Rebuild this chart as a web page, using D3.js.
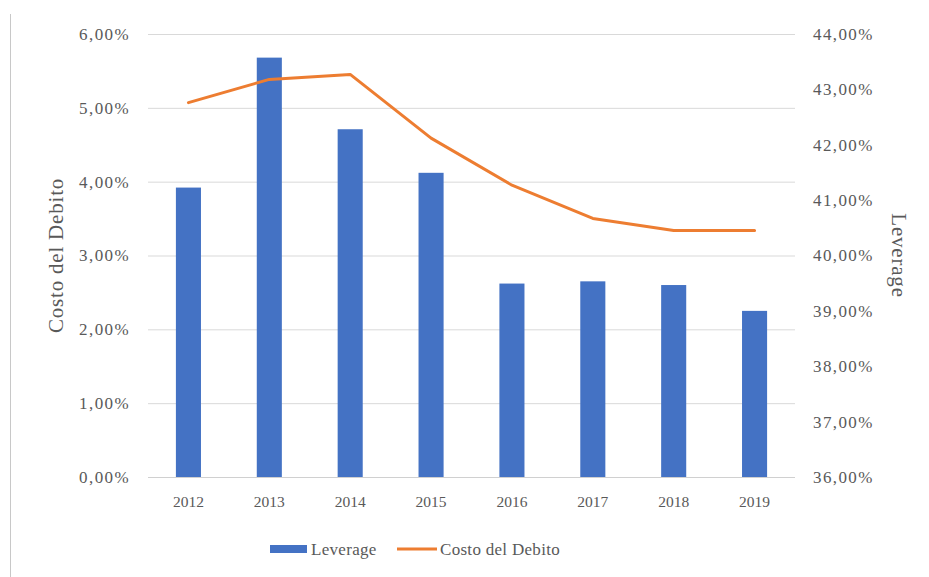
<!DOCTYPE html>
<html>
<head>
<meta charset="utf-8">
<script src="https://cdn.jsdelivr.net/npm/d3@7"></script>
<style>
  body { margin: 0; background: #fff; }
  svg text { font-family: "Liberation Serif", "DejaVu Serif", serif; fill: #595959; }
</style>
</head>
<body>
<div id="chart"></div>
<script>
// Data
const years = ["2012", "2013", "2014", "2015", "2016", "2017", "2018", "2019"];
const leverage = [3.92, 5.68, 4.71, 4.12, 2.62, 2.65, 2.60, 2.25];        // bars, left axis (%)
const costoDebito = [42.76, 43.18, 43.27, 42.12, 41.27, 40.67, 40.45, 40.45]; // line, right axis (%)
const leftTicks = [0, 1, 2, 3, 4, 5, 6];
const rightTicks = [36, 37, 38, 39, 40, 41, 42, 43, 44];

const width = 929;
const height = 577;
const marginLeft = 148;
const marginRight = 134;
const marginTop = 34;
const marginBottom = 100;

const fmt = v => v.toFixed(2).replace(".", ",") + "%";

const svg = d3.select("#chart")
    .append("svg")
    .attr("width", width)
    .attr("height", height);

// outer frame line on the left
svg.append("line")
    .attr("x1", 10.5).attr("x2", 10.5)
    .attr("y1", 14).attr("y2", height)
    .attr("stroke", "#c8c8c8")
    .attr("stroke-width", 1);

const x = d3.scaleBand()
    .domain(years)
    .range([marginLeft, width - marginRight])
    .paddingInner(0.69)
    .paddingOuter(0.345);

const yLeft = d3.scaleLinear()
    .domain([0, 6])
    .range([height - marginBottom, marginTop]);

const yRight = d3.scaleLinear()
    .domain([36, 44])
    .range([height - marginBottom, marginTop]);

// grid lines
svg.append("g")
    .selectAll("line")
    .data(leftTicks)
    .join("line")
    .attr("x1", marginLeft)
    .attr("x2", width - marginRight)
    .attr("y1", d => yLeft(d) + 0.5)
    .attr("y2", d => yLeft(d) + 0.5)
    .attr("stroke", "#d9d9d9")
    .attr("stroke-width", 1);

// left axis
const axisL = svg.append("g")
    .attr("transform", `translate(${marginLeft},0)`)
    .call(d3.axisLeft(yLeft).tickValues(leftTicks).tickFormat(fmt).tickSize(0).tickPadding(18));

// right axis
const axisR = svg.append("g")
    .attr("transform", `translate(${width - marginRight},0)`)
    .call(d3.axisRight(yRight).tickValues(rightTicks).tickFormat(fmt).tickSize(0).tickPadding(18));

// bottom axis
const axisB = svg.append("g")
    .attr("transform", `translate(0,${height - marginBottom})`)
    .call(d3.axisBottom(x).tickSize(0).tickPadding(19));

[axisL, axisR].forEach(axis => {
    axis.select(".domain").remove();
    axis.selectAll(".tick text")
        .attr("font-size", 17)
        .attr("letter-spacing", 1.4)
        .attr("font-family", null)
        .attr("fill", "#595959");
});
axisB.select(".domain").remove();
axisB.selectAll(".tick text")
    .attr("font-size", 15.5)
    .attr("font-family", null)
    .attr("fill", "#595959");

// baseline
svg.append("line")
    .attr("x1", marginLeft)
    .attr("x2", width - marginRight)
    .attr("y1", yLeft(0) + 0.5)
    .attr("y2", yLeft(0) + 0.5)
    .attr("stroke", "#d0d0d0");

// bars
svg.append("g")
    .selectAll("rect")
    .data(years)
    .join("rect")
    .attr("x", d => x(d))
    .attr("width", x.bandwidth())
    .attr("y", (d, i) => yLeft(leverage[i]))
    .attr("height", (d, i) => yLeft(0) - yLeft(leverage[i]))
    .attr("fill", "#4472c4");

// line
const line = d3.line()
    .x((d, i) => x(years[i]) + x.bandwidth() / 2)
    .y(d => yRight(d));

svg.append("path")
    .datum(costoDebito)
    .attr("fill", "none")
    .attr("stroke", "#ed7d31")
    .attr("stroke-width", 3)
    .attr("stroke-linejoin", "round")
    .attr("stroke-linecap", "round")
    .attr("d", line);

// axis titles
svg.append("text")
    .attr("transform", `translate(63,${(yLeft(0) + yLeft(6)) / 2}) rotate(-90)`)
    .attr("text-anchor", "middle")
    .attr("font-size", 21)
    .attr("letter-spacing", 0.8)
    .text("Costo del Debito");

svg.append("text")
    .attr("transform", `translate(892,${(yRight(36) + yRight(44)) / 2}) rotate(90)`)
    .attr("text-anchor", "middle")
    .attr("font-size", 21)
    .attr("letter-spacing", 0.8)
    .text("Leverage");

// legend
const legend = svg.append("g").attr("transform", "translate(0,549)");
legend.append("rect")
    .attr("x", 270).attr("y", -4)
    .attr("width", 37).attr("height", 8)
    .attr("fill", "#4472c4");
legend.append("text")
    .attr("x", 311).attr("y", 6)
    .attr("font-size", 17)
    .attr("letter-spacing", 0.3)
    .text("Leverage");
legend.append("line")
    .attr("x1", 397).attr("x2", 437)
    .attr("y1", 0).attr("y2", 0)
    .attr("stroke", "#ed7d31")
    .attr("stroke-width", 3);
legend.append("text")
    .attr("x", 440).attr("y", 6)
    .attr("font-size", 17)
    .attr("letter-spacing", 0.3)
    .text("Costo del Debito");
</script>
</body>
</html>
